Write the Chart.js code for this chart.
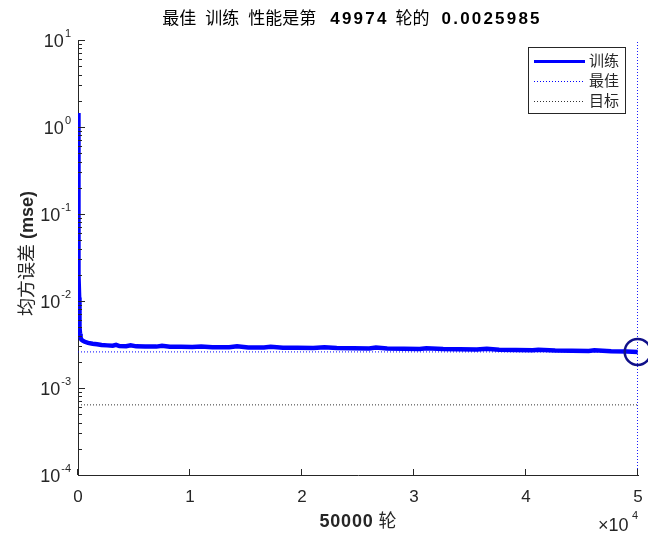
<!DOCTYPE html>
<html lang="zh">
<head>
  <meta charset="UTF-8">
  <script src="https://cdn.jsdelivr.net/npm/chart.js@4.4.1/dist/chart.umd.min.js"></script>
  <title>训练性能</title>
  <style>
    body { margin: 0; background: #fff; }
  </style>
</head>
<body>
  <canvas id="myChart" width="648" height="535"></canvas>

  <script>
    // training record
    const epochs = [0, 8, 18, 30, 45, 60, 80, 100, 120, 145, 180, 230, 300, 420, 600, 900, 1300, 1700, 2100, 2600,
      3100, 3400, 3700, 4300, 4700, 5200, 6000, 7000, 7500, 8200, 9200, 10200, 11000, 12000, 13500, 14200, 15200,
      16600, 17200, 18300, 19600, 21000, 22000, 23100, 24600, 26000, 26600, 27600, 29100, 30500, 31100, 32600,
      34100, 35600, 36500, 37600, 39100, 40600, 41100, 42600, 44100, 45600, 46100, 47600, 49000, 49974];
    const trainMse = [1.45, 0.95, 0.5, 0.22, 0.1, 0.045, 0.02, 0.011, 0.0068, 0.005, 0.0042, 0.0038, 0.0036, 0.0035,
      0.0034, 0.0033, 0.00322, 0.00318, 0.00312, 0.00309, 0.00306, 0.00314, 0.00304, 0.00302, 0.00309, 0.00301,
      0.003, 0.00299, 0.00305, 0.00298, 0.00297, 0.00296, 0.00299, 0.00295, 0.00294, 0.00301, 0.00293, 0.00292,
      0.00297, 0.00291, 0.0029, 0.00289, 0.00294, 0.00288, 0.00287, 0.00285, 0.00292, 0.00284, 0.00283, 0.00281,
      0.00286, 0.0028, 0.00278, 0.00277, 0.00282, 0.00275, 0.00274, 0.00272, 0.00276, 0.0027, 0.00268, 0.00267,
      0.00271, 0.00264, 0.00262, 0.0025985];
    const bestEpoch = 49974;
    const bestMse = 0.0025985;
    const goalMse = 0.00064;
    const maxEpoch = 50000;
    const xTicks = [0, 10000, 20000, 30000, 40000, 50000];
    const yExponents = [-4, -3, -2, -1, 0, 1];
    const seriesLabels = ['训练', '最佳', '目标'];

    const FONT = '"Liberation Sans", "Noto Sans CJK SC", sans-serif';
    const AX = '#262626';

    const trainPts = epochs.map((e, i) => ({ x: e, y: trainMse[i] }));

    // draw text made of plain / bold pieces (and fixed gaps), centred on (cx, cy)
    function mixedText(ctx, parts, cx, cy, size, color) {
      ctx.save();
      ctx.fillStyle = color;
      ctx.textBaseline = 'middle';
      ctx.textAlign = 'left';
      const setFont = p => {
        ctx.font = (p.b ? 'bold ' : '') + size + 'px ' + FONT;
        ctx.letterSpacing = (p.ls || 0) + 'px';
      };
      let total = 0;
      parts.forEach(p => {
        if (p.g !== undefined) { p.w = p.g; }
        else { setFont(p); p.w = ctx.measureText(p.t).width; }
        total += p.w;
      });
      let x = cx - total / 2;
      parts.forEach(p => {
        if (p.g === undefined) { setFont(p); ctx.fillText(p.t, x, cy); }
        x += p.w;
      });
      ctx.letterSpacing = '0px';
      ctx.restore();
    }

    const matlabAxes = {
      id: 'matlabAxes',
      afterDraw(chart) {
        const ctx = chart.ctx;
        const area = chart.chartArea;
        const ys = chart.scales.y;
        const xs = chart.scales.x;

        ctx.save();
        ctx.strokeStyle = AX;
        ctx.lineWidth = 1;

        // y ticks pointing inward, majors at decades
        ys.ticks.forEach(t => {
          const py = Math.round(ys.getPixelForValue(t.value)) + 0.5;
          const lg = Math.log10(t.value);
          const major = Math.abs(lg - Math.round(lg)) < 1e-6;
          ctx.beginPath();
          ctx.moveTo(area.left, py);
          ctx.lineTo(area.left + (major ? 7 : 4), py);
          ctx.stroke();
        });

        // x ticks pointing up
        xTicks.forEach(v => {
          const px = Math.round(xs.getPixelForValue(v)) - 0.5;
          ctx.beginPath();
          ctx.moveTo(px, area.bottom);
          ctx.lineTo(px, area.bottom - 6);
          ctx.stroke();
        });

        // y labels 10^n
        ctx.fillStyle = AX;
        ctx.textBaseline = 'alphabetic';
        yExponents.forEach(n => {
          const py = ys.getPixelForValue(Math.pow(10, n));
          ctx.font = '11px ' + FONT;
          const supW = ctx.measureText(String(n)).width;
          ctx.font = '18px ' + FONT;
          const baseW = ctx.measureText('10').width;
          const right = 71;
          ctx.textAlign = 'left';
          ctx.fillText('10', right - supW - baseW - 1, py + 7);
          ctx.font = '11px ' + FONT;
          ctx.fillText(String(n), right - supW, py - 3);
        });

        // x multiplier
        ctx.font = '18px ' + FONT;
        ctx.fillText('\u00d710', 598, 531);
        ctx.font = '11px ' + FONT;
        ctx.fillText(String(Math.log10(xTicks[1])), 632, 519);

        // legend box
        const lx = 528, ly = 47, lw = 97, lh = 66;
        ctx.fillStyle = '#fff';
        ctx.fillRect(lx, ly, lw, lh);
        ctx.strokeStyle = AX;
        ctx.strokeRect(lx + 0.5, ly + 0.5, lw, lh);
        const styles = [
          { c: '#0000ff', w: 3, d: [] },
          { c: '#0000ff', w: 1, d: [1, 2] },
          { c: '#333333', w: 1, d: [1, 2] }
        ];
        seriesLabels.forEach((lab, i) => {
          const y = ly + 14 + i * 20;
          ctx.beginPath();
          ctx.strokeStyle = styles[i].c;
          ctx.lineWidth = styles[i].w;
          ctx.setLineDash(styles[i].d);
          ctx.moveTo(lx + 6, y + 0.5);
          ctx.lineTo(lx + 57, y + 0.5);
          ctx.stroke();
          ctx.setLineDash([]);
          ctx.fillStyle = AX;
          ctx.font = '15px ' + FONT;
          ctx.textBaseline = 'middle';
          ctx.fillText(lab, lx + 61, y + 1);
        });
        ctx.restore();

        // title, axis names
        const cx = (area.left + area.right) / 2;
        mixedText(ctx, [
          { t: '最佳' }, { g: 9 }, { t: '训练' }, { g: 9 }, { t: '性能是第' }, { g: 14 },
          { t: String(bestEpoch), b: true, ls: 2.2 }, { g: 7 }, { t: '轮的' }, { g: 12 },
          { t: String(bestMse), b: true, ls: 2.2 }
        ], cx - 6, 19, 17, '#000');
        mixedText(ctx, [
          { t: String(maxEpoch), b: true, ls: 0.8 },
          { t: ' 轮', b: false }
        ], cx, 522, 18, AX);

        ctx.save();
        ctx.translate(28, (area.top + area.bottom) / 2 - 4);
        ctx.rotate(-Math.PI / 2);
        mixedText(ctx, [
          { t: '均方误差 ', b: false },
          { t: '(mse)', b: true }
        ], 0, 0, 18, AX);
        ctx.restore();
      }
    };

    new Chart(document.getElementById('myChart'), {
      type: 'line',
      data: {
        datasets: [
          {
            label: 'best-marker',
            data: [{ x: bestEpoch, y: bestMse }],
            showLine: false,
            pointRadius: 13,
            pointBorderWidth: 2.5,
            pointBorderColor: '#10108a',
            pointBackgroundColor: 'rgba(0,0,0,0)',
            clip: false,
            order: 0
          },
          {
            label: seriesLabels[0],
            data: trainPts,
            borderColor: '#0000ff',
            borderWidth: 4.5,
            pointRadius: 0,
            tension: 0,
            order: 1
          },
          {
            label: seriesLabels[1],
            data: [{ x: 0, y: bestMse }, { x: maxEpoch, y: bestMse }],
            borderColor: '#0000ff',
            borderWidth: 1,
            borderDash: [1, 2],
            pointRadius: 0,
            order: 2
          },
          {
            label: seriesLabels[1] + '-v',
            data: [{ x: bestEpoch, y: 1e-4 }, { x: bestEpoch, y: 10 }],
            borderColor: '#0000ff',
            borderWidth: 1.2,
            borderDash: [1, 2],
            pointRadius: 0,
            order: 2
          },
          {
            label: seriesLabels[2],
            data: [{ x: 0, y: goalMse }, { x: maxEpoch, y: goalMse }],
            borderColor: '#333333',
            borderWidth: 1,
            borderDash: [1, 2],
            pointRadius: 0,
            order: 2
          }
        ]
      },
      options: {
        responsive: false,
        animation: false,
        devicePixelRatio: 1,
        layout: { autoPadding: false, padding: { left: 0, top: 40, right: 10, bottom: 0 } },
        plugins: {
          legend: { display: false },
          title: { display: false },
          tooltip: { enabled: false }
        },
        scales: {
          x: {
            type: 'linear',
            min: 0,
            max: maxEpoch,
            afterBuildTicks: s => { s.ticks = xTicks.map(v => ({ value: v })); },
            afterFit: s => { s.height = 60; s.paddingLeft = 0; s.paddingRight = 0; },
            grid: { display: false, drawTicks: false },
            border: { display: true, color: AX, width: 1 },
            ticks: {
              padding: 12,
              maxRotation: 0,
              color: AX,
              font: { family: FONT, size: 17 },
              callback: v => v / xTicks[1]
            }
          },
          y: {
            type: 'logarithmic',
            min: Math.pow(10, yExponents[0]),
            max: Math.pow(10, yExponents[yExponents.length - 1]),
            afterBuildTicks: s => {
              const t = [];
              for (let n = yExponents[0]; n <= yExponents[yExponents.length - 1]; n++) {
                for (let k = 1; k <= 9; k++) {
                  if (n === yExponents[yExponents.length - 1] && k > 1) break;
                  t.push({ value: k * Math.pow(10, n) });
                }
              }
              s.ticks = t;
            },
            afterFit: s => { s.width = 78; s.paddingTop = 0; s.paddingBottom = 0; },
            grid: { display: false, drawTicks: false },
            border: { display: true, color: AX, width: 1 },
            ticks: { display: false }
          }
        }
      },
      plugins: [matlabAxes]
    });
  </script>
</body>
</html>
